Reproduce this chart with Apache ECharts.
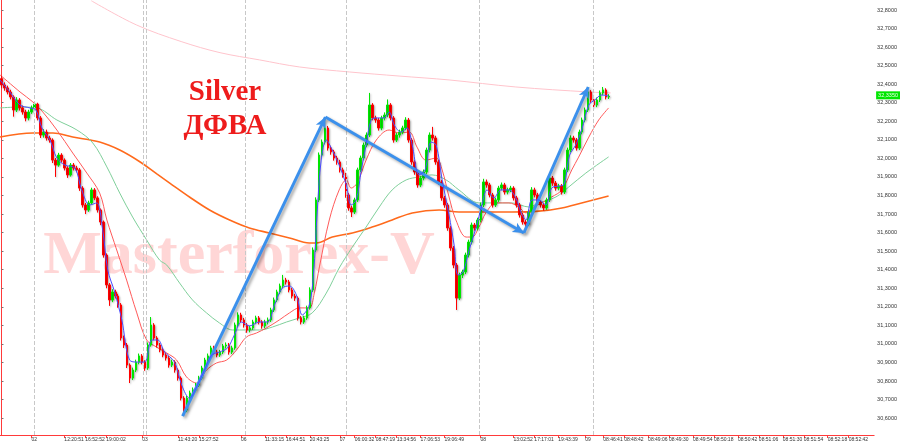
<!DOCTYPE html>
<html><head><meta charset="utf-8">
<script src="https://cdn.jsdelivr.net/npm/echarts@6/dist/echarts.min.js"></script>
<style>html,body{margin:0;padding:0;background:#fff}#c{width:900px;height:443px}</style>
</head><body><div id="c"></div>
<script>
// candles: [open, close, low, high]
const candles = [
[32.430,32.396,32.380,32.445],[32.396,32.380,32.365,32.410],[32.380,32.358,32.345,32.392],[32.358,32.331,32.318,32.370],
[32.331,32.261,32.225,32.340],[32.261,32.315,32.250,32.330],[32.315,32.272,32.258,32.325],[32.272,32.250,32.236,32.285],
[32.250,32.218,32.200,32.262],[32.218,32.250,32.205,32.262],[32.250,32.272,32.240,32.285],[32.272,32.293,32.262,32.305],
[32.293,32.218,32.205,32.300],[32.218,32.126,32.110,32.228],[32.126,32.142,32.112,32.158],[32.142,32.110,32.096,32.155],
[32.110,32.099,32.085,32.122],[32.099,31.991,31.975,32.108],[31.991,31.964,31.900,32.002],[31.964,32.018,31.955,32.030],
[32.018,31.991,31.978,32.028],[31.991,31.948,31.935,32.000],[31.948,31.911,31.895,31.958],[31.911,31.964,31.902,31.975],
[31.964,31.948,31.935,31.975],[31.948,31.938,31.925,31.960],[31.938,31.840,31.825,31.948],[31.840,31.749,31.735,31.850],
[31.749,31.722,31.700,31.760],[31.722,31.760,31.712,31.772],[31.760,31.830,31.750,31.842],[31.830,31.787,31.775,31.840],
[31.787,31.722,31.708,31.796],[31.722,31.657,31.640,31.730],[31.657,31.479,31.465,31.665],[31.479,31.318,31.300,31.488],
[31.318,31.237,31.205,31.328],[31.237,31.280,31.225,31.295],[31.280,31.258,31.245,31.292],[31.258,31.210,31.195,31.270],
[31.210,31.032,31.018,31.220],[31.032,30.994,30.978,31.045],[30.994,30.886,30.870,31.005],[30.886,30.816,30.789,30.895],
[30.816,30.859,30.805,30.872],[30.859,30.902,30.848,30.915],[30.902,30.935,30.890,30.948],[30.935,30.902,30.890,30.945],
[30.902,30.870,30.855,30.912],[30.870,30.994,30.860,31.008],[30.994,31.102,30.985,31.145],[31.102,31.032,31.020,31.112],
[31.032,30.994,30.980,31.042],[30.994,30.967,30.955,31.005],[30.967,30.940,30.928,30.978],[30.940,30.924,30.910,30.952],
[30.924,30.886,30.872,30.935],[30.886,30.902,30.875,30.915],[30.902,30.859,30.845,30.912],[30.859,30.816,30.802,30.868],
[30.816,30.708,30.695,30.825],[30.708,30.644,30.615,30.718],[30.644,30.708,30.632,30.720],[30.708,30.735,30.695,30.748],
[30.735,30.752,30.722,30.765],[30.752,30.778,30.740,30.790],[30.778,30.816,30.768,30.828],[30.816,30.870,30.805,30.882],
[30.870,30.913,30.860,30.925],[30.913,30.935,30.900,30.948],[30.935,30.978,30.925,30.990],[30.978,30.956,30.942,30.990],
[30.956,30.940,30.928,30.968],[30.940,30.956,30.930,30.968],[30.956,30.989,30.945,31.000],[30.989,30.994,30.975,31.008],
[30.994,30.956,30.942,31.005],[30.956,30.978,30.945,30.990],[30.978,31.102,30.968,31.115],[31.102,31.156,31.090,31.170],
[31.156,31.129,31.115,31.168],[31.129,31.102,31.088,31.140],[31.102,31.075,31.060,31.112],[31.075,31.086,31.062,31.098],
[31.086,31.118,31.075,31.130],[31.118,31.140,31.106,31.152],[31.140,31.118,31.105,31.150],[31.118,31.097,31.082,31.128],
[31.097,31.118,31.085,31.130],[31.118,31.129,31.105,31.142],[31.129,31.183,31.118,31.195],[31.183,31.237,31.172,31.250],
[31.237,31.280,31.225,31.292],[31.280,31.312,31.268,31.325],[31.312,31.344,31.300,31.372],[31.344,31.334,31.320,31.356],
[31.334,31.291,31.278,31.345],[31.291,31.258,31.245,31.302],[31.258,31.247,31.232,31.270],[31.247,31.140,31.126,31.256],
[31.140,31.118,31.105,31.150],[31.118,31.140,31.108,31.152],[31.140,31.194,31.130,31.206],[31.194,31.291,31.185,31.305],
[31.291,31.506,31.280,31.520],[31.506,31.776,31.495,31.790],[31.776,32.018,31.765,32.032],[32.018,32.088,32.005,32.102],
[32.088,32.164,32.075,32.218],[32.164,32.056,32.042,32.175],[32.056,32.035,32.020,32.068],[32.035,32.002,31.988,32.046],
[32.002,31.981,31.966,32.014],[31.981,31.938,31.924,31.992],[31.938,31.911,31.896,31.950],[31.911,31.803,31.788,31.922],
[31.803,31.733,31.718,31.814],[31.733,31.711,31.684,31.745],[31.711,31.776,31.700,31.788],[31.776,31.938,31.765,31.950],
[31.938,32.002,31.926,32.015],[32.002,32.072,31.990,32.085],[32.072,32.126,32.060,32.140],[32.126,32.288,32.115,32.353],
[32.288,32.218,32.205,32.298],[32.218,32.207,32.192,32.230],[32.207,32.164,32.150,32.218],[32.164,32.218,32.152,32.230],
[32.218,32.234,32.205,32.248],[32.234,32.288,32.222,32.318],[32.288,32.218,32.205,32.298],[32.218,32.099,32.085,32.228],
[32.099,32.126,32.088,32.138],[32.126,32.142,32.112,32.155],[32.142,32.164,32.130,32.176],[32.164,32.207,32.152,32.222],
[32.207,32.099,32.085,32.218],[32.099,31.981,31.966,32.110],[31.981,31.927,31.912,31.992],[31.927,31.857,31.842,31.938],
[31.857,31.894,31.845,31.906],[31.894,31.927,31.882,31.940],[31.927,32.045,31.915,32.058],[32.045,32.126,32.032,32.140],
[32.126,32.110,32.096,32.170],[32.110,31.981,31.966,32.122],[31.981,31.873,31.858,31.992],[31.873,31.787,31.772,31.884],
[31.787,31.749,31.734,31.798],[31.749,31.625,31.610,31.760],[31.625,31.517,31.502,31.636],[31.517,31.425,31.408,31.528],
[31.425,31.247,31.183,31.436],[31.247,31.371,31.236,31.384],[31.371,31.388,31.355,31.400],[31.388,31.479,31.376,31.492],
[31.479,31.549,31.466,31.562],[31.549,31.641,31.536,31.654],[31.641,31.625,31.610,31.652],[31.625,31.668,31.612,31.680],
[31.668,31.749,31.655,31.762],[31.749,31.873,31.738,31.890],[31.873,31.857,31.842,31.886],[31.857,31.803,31.790,31.868],
[31.803,31.749,31.735,31.814],[31.749,31.776,31.738,31.788],[31.776,31.840,31.765,31.852],[31.840,31.857,31.828,31.870],
[31.857,31.819,31.805,31.868],[31.819,31.830,31.806,31.842],[31.830,31.840,31.818,31.852],[31.840,31.787,31.773,31.850],
[31.787,31.749,31.735,31.798],[31.749,31.695,31.681,31.760],[31.695,31.657,31.643,31.706],[31.657,31.646,31.628,31.668],
[31.646,31.711,31.635,31.724],[31.711,31.830,31.700,31.845],[31.830,31.803,31.790,31.842],[31.803,31.765,31.752,31.814],
[31.765,31.749,31.735,31.776],[31.749,31.733,31.718,31.760],[31.733,31.776,31.722,31.788],[31.776,31.894,31.765,31.906],
[31.894,31.867,31.852,31.905],[31.867,31.840,31.826,31.878],[31.840,31.851,31.828,31.863],[31.851,31.819,31.805,31.862],
[31.819,31.938,31.808,31.950],[31.938,32.045,31.926,32.058],[32.045,32.110,32.032,32.124],[32.110,32.099,32.085,32.122],
[32.099,32.056,32.042,32.110],[32.056,32.142,32.045,32.155],[32.142,32.207,32.130,32.220],[32.207,32.261,32.195,32.274],
[32.261,32.358,32.250,32.385],[32.358,32.315,32.300,32.368],[32.315,32.288,32.272,32.326],[32.288,32.315,32.276,32.328],
[32.315,32.353,32.304,32.366],[32.353,32.369,32.340,32.385],[32.369,32.331,32.318,32.378],[32.331,32.335,32.320,32.346]
];
const totalSlots = 292;
// x tick labels: [slot index, text]
const xTickLabels = [
[10,'02'],[21,'12:20:51'],[28,'16:52:52'],[35,'19:00:02'],[47,'03'],[59,'11:43:20'],[66,'15:27:52'],
[80,'06'],[88,'11:33:15'],[95,'16:44:51'],[103,'20:43:25'],[113,'07'],[118,'06:00:32'],[125,'08:47:19'],
[132,'13:34:56'],[140,'17:06:53'],[148,'19:06:49'],[160,'08'],[171,'13:02:52'],[178,'17:17:01'],[186,'19:43:39'],
[195,'09'],[201,'08:46:41'],[208,'08:48:42'],[216,'08:49:06'],[223,'08:49:30'],[231,'08:49:54'],[238,'08:50:18'],
[246,'08:50:42'],[253,'08:51:06'],[261,'08:51:30'],[268,'08:51:54'],[276,'08:52:18'],[283,'08:52:42']
];
const yTickValues = [30.6,30.7,30.8,30.9,31.0,31.1,31.2,31.3,31.4,31.5,31.6,31.7,31.8,31.9,32.0,32.1,32.2,32.3,32.4,32.5,32.6,32.7,32.8];
const dayLines = [10.8,47.5,48.5,81.5,115.2,159.5,197.8];
const lastPrice = 32.335;
const maBlue = [[-0.5,32.423],[2.8,32.358],[6.2,32.288],[9.5,32.272],[11.5,32.261],[13.5,32.164],[16.2,32.099],[18.5,32.002],[21.2,31.964],[24.5,31.948],[26.8,31.830],[29.5,31.749],[31.8,31.760],[33.8,31.614],[35.5,31.398],[37.8,31.280],[40.2,31.129],[42.8,30.913],[45.5,30.902],[47.8,30.902],[50.2,31.021],[52.2,31.021],[54.5,30.956],[57.8,30.902],[60.2,30.778],[62.8,30.708],[65.5,30.778],[67.8,30.859],[70.2,30.940],[72.8,30.956],[75.5,30.978],[77.8,31.048],[80.2,31.118],[82.8,31.097],[86.2,31.118],[88.8,31.118],[91.2,31.210],[93.8,31.301],[96.2,31.312],[98.5,31.264],[100.5,31.156],[102.8,31.210],[104.2,31.371],[105.5,31.722],[106.8,31.991],[108.5,32.099],[110.5,32.045],[112.8,31.964],[115.2,31.857],[116.8,31.749],[118.5,31.776],[120.2,31.938],[121.8,32.072],[123.5,32.207],[125.5,32.218],[127.8,32.218],[129.5,32.250],[131.2,32.180],[133.5,32.142],[135.5,32.164],[137.2,32.072],[139.5,31.911],[141.5,31.938],[143.5,32.088],[145.2,32.072],[147.2,31.884],[149.5,31.695],[151.2,31.533],[152.5,31.371],[154.2,31.388],[156.2,31.506],[158.5,31.625],[160.5,31.749],[162.2,31.830],[164.5,31.787],[166.8,31.830],[169.5,31.830],[171.8,31.787],[173.5,31.711],[175.2,31.668],[177.2,31.776],[179.5,31.776],[181.8,31.749],[183.8,31.840],[186.2,31.851],[187.8,31.857],[189.8,32.018],[191.8,32.072],[193.8,32.153],[196.2,32.288],[198.2,32.315],[200.5,32.342],[202.8,32.336]];
const maRed = [[-0.5,32.450],[6.2,32.358],[10.5,32.304],[13.8,32.250],[18.5,32.153],[23.8,32.029],[28.5,31.921],[32.8,31.813],[35.2,31.668],[38.5,31.506],[41.8,31.344],[45.2,31.167],[48.5,31.021],[51.8,30.983],[55.2,30.951],[58.5,30.913],[61.8,30.822],[65.2,30.789],[68.5,30.859],[71.8,30.897],[75.2,30.913],[78.5,30.967],[81.8,31.037],[85.2,31.059],[88.5,31.086],[92.8,31.129],[96.2,31.167],[99.5,31.194],[102.8,31.194],[104.5,31.274],[106.2,31.415],[109.5,31.668],[112.8,31.830],[115.2,31.884],[116.8,31.840],[118.8,31.867],[121.8,31.991],[125.2,32.099],[129.5,32.153],[132.8,32.137],[136.2,32.142],[138.8,32.061],[141.8,31.991],[145.2,32.002],[147.2,31.938],[149.5,31.792],[151.8,31.668],[155.2,31.576],[157.2,31.576],[159.5,31.630],[161.8,31.706],[165.2,31.760],[169.5,31.760],[172.8,31.738],[175.2,31.706],[177.2,31.733],[180.5,31.760],[183.8,31.792],[187.2,31.830],[190.5,31.938],[192.8,32.007],[196.2,32.115],[199.5,32.207],[202.8,32.272]];
const maGreen = [[-0.5,32.272],[6.2,32.277],[11.8,32.272],[18.5,32.207],[25.2,32.153],[30.5,32.083],[35.2,31.954],[39.5,31.813],[43.8,31.684],[48.5,31.560],[52.8,31.452],[55.2,31.425],[59.5,31.328],[63.8,31.237],[68.5,31.167],[72.8,31.113],[77.2,31.075],[81.8,31.075],[86.2,31.075],[90.5,31.091],[95.2,31.118],[99.5,31.140],[103.8,31.167],[108.5,31.274],[112.8,31.409],[117.2,31.522],[121.8,31.630],[126.2,31.738],[130.5,31.830],[135.2,31.884],[139.5,31.900],[143.8,31.911],[148.5,31.884],[152.8,31.830],[159.5,31.760],[165.2,31.760],[170.5,31.760],[176.2,31.738],[179.5,31.760],[185.2,31.792],[189.5,31.846],[195.2,31.921],[202.8,32.008]];
const maOrange = [[-0.5,32.115],[10.5,32.137],[17.2,32.137],[23.8,32.115],[32.8,32.088],[39.5,32.045],[46.2,31.982],[52.0,31.915],[56.2,31.867],[62.8,31.792],[69.5,31.722],[76.2,31.668],[82.8,31.625],[89.5,31.598],[96.2,31.571],[102.8,31.544],[105.2,31.544],[110.5,31.576],[117.2,31.598],[123.8,31.630],[130.5,31.668],[137.2,31.706],[146.2,31.722],[152.8,31.711],[160.5,31.711],[170.5,31.711],[179.5,31.716],[187.2,31.733],[193.8,31.760],[202.8,31.797]];
const maPink = [[30.0,32.850],[45.0,32.720],[60.0,32.630],[73.0,32.570],[86.2,32.531],[99.5,32.493],[116.2,32.466],[132.8,32.444],[149.5,32.423],[171.8,32.385],[196.2,32.358],[203.5,32.353]];
const arrows = [[[60.5,30.611],[108.2,32.223]],[[108.2,32.223],[174.5,31.598]],[[174.5,31.598],[196.0,32.385]]];

const labelMap = {};
xTickLabels.forEach(function (p) { labelMap[p[0]] = p[1]; });
const categories = [];
for (let i = 0; i < totalSlots; i++) categories.push(String(i));
const hasLabel = function (idx) { return labelMap[idx] !== undefined; };
const fmtPrice = function (v) { return v.toFixed(4).replace('.', ','); };

function lineSeries(data, color, width) {
  return { type: 'line', xAxisIndex: 1, yAxisIndex: 0, data: data, smooth: 0.35, showSymbol: false,
    silent: true, lineStyle: { color: color, width: width }, z: 3 };
}

const chart = echarts.init(document.getElementById('c'), null, { renderer: 'canvas' });
chart.setOption({
  animation: false,
  backgroundColor: '#ffffff',
  grid: { left: 0, right: 23, top: 0, bottom: 8, containLabel: false },
  graphic: [
    { type: 'text', z: 0, x: 239, y: 257, silent: true,
      style: { text: 'Masterforex-V', font: 'bold 62px "Liberation Serif"', fill: '#ffd6d6', align: 'center', verticalAlign: 'middle' } },
    { type: 'text', z: 100, x: 225, y: 93, silent: true,
      style: { text: 'Silver', font: 'bold 29px "Liberation Serif"', fill: '#ee1c1c', align: 'center', verticalAlign: 'middle' } },
    { type: 'text', z: 100, x: 225, y: 127, silent: true,
      style: { text: 'ДФВА', font: 'bold 29px "Liberation Serif"', fill: '#ee1c1c', align: 'center', verticalAlign: 'middle' } }
  ],
  xAxis: [
    { type: 'category', data: categories, boundaryGap: true,
      axisLine: { show: true, lineStyle: { color: '#ff3a3a', width: 1 } },
      axisTick: { show: true, alignWithLabel: true, interval: hasLabel, length: 3, lineStyle: { color: '#ff3a3a' } },
      axisLabel: { interval: hasLabel, formatter: function (v, idx) { return labelMap[idx] || ''; },
        align: 'left', fontSize: 5, color: '#333', margin: 2, fontFamily: 'Liberation Sans' },
      splitLine: { show: false } },
    { type: 'value', min: -0.5, max: totalSlots - 0.5, show: false }
  ],
  yAxis: [
    { type: 'value', position: 'right', min: 30.5089, max: 32.8539,
      axisLine: { show: true, lineStyle: { color: '#ff3a3a', width: 1 } },
      axisTick: { show: true, customValues: yTickValues, length: 2, lineStyle: { color: '#777' } },
      axisLabel: { customValues: yTickValues, formatter: fmtPrice, fontSize: 5.5, color: '#333', margin: 3, fontFamily: 'Liberation Sans' },
      splitLine: { show: false } }
  ],
  series: [
    { type: 'line', xAxisIndex: 1, yAxisIndex: 0, data: [], silent: true, z: 1,
      markLine: { silent: true, symbol: ['none', 'none'], label: { show: false },
        lineStyle: { color: '#c8c8c8', type: 'dashed', width: 1 },
        data: dayLines.map(function (v) { return { xAxis: v }; }) } },
    lineSeries(maPink, '#ffc4cc', 1),
    lineSeries(maOrange, '#ff6a1c', 1.6),
    lineSeries(maGreen, '#7fcf9a', 1),
    lineSeries(maRed, '#ff5a5a', 1),
    { type: 'candlestick', xAxisIndex: 0, yAxisIndex: 0, data: candles, barWidth: 2, z: 4, silent: true,
      itemStyle: { color: '#00e600', color0: '#ff0000', borderColor: '#00e600', borderColor0: '#ff0000', borderWidth: 1,
        shadowColor: 'rgba(0,0,0,0.25)', shadowBlur: 2, shadowOffsetX: 1, shadowOffsetY: 1 } },
    Object.assign(lineSeries(maBlue, '#4a4aff', 1), { z: 5 }),
    { type: 'line', xAxisIndex: 1, yAxisIndex: 0, data: [], silent: true, z: 6,
      markLine: { silent: true, symbol: ['none', 'arrow'], symbolSize: [8, 11], label: { show: false },
        lineStyle: { color: '#3b90ec', width: 3, type: 'solid', shadowColor: 'rgba(0,0,0,0.35)', shadowBlur: 3, shadowOffsetX: 2, shadowOffsetY: 2 },
        data: arrows.map(function (a) { return [{ coord: a[0] }, { coord: a[1] }]; }) } },
    { type: 'line', xAxisIndex: 1, yAxisIndex: 0, data: [], silent: true, z: 7,
      markLine: { silent: true, symbol: ['none', 'none'], lineStyle: { color: 'rgba(0,0,0,0)', width: 0 },
        label: { show: true, position: 'end', formatter: function () { return fmtPrice(lastPrice); },
          backgroundColor: '#00e600', color: '#eaffea', fontSize: 5.5, padding: [1, 2], distance: 2, fontFamily: 'Liberation Sans' },
        data: [{ yAxis: lastPrice }] } }
  ]
});
</script>
</body></html>
